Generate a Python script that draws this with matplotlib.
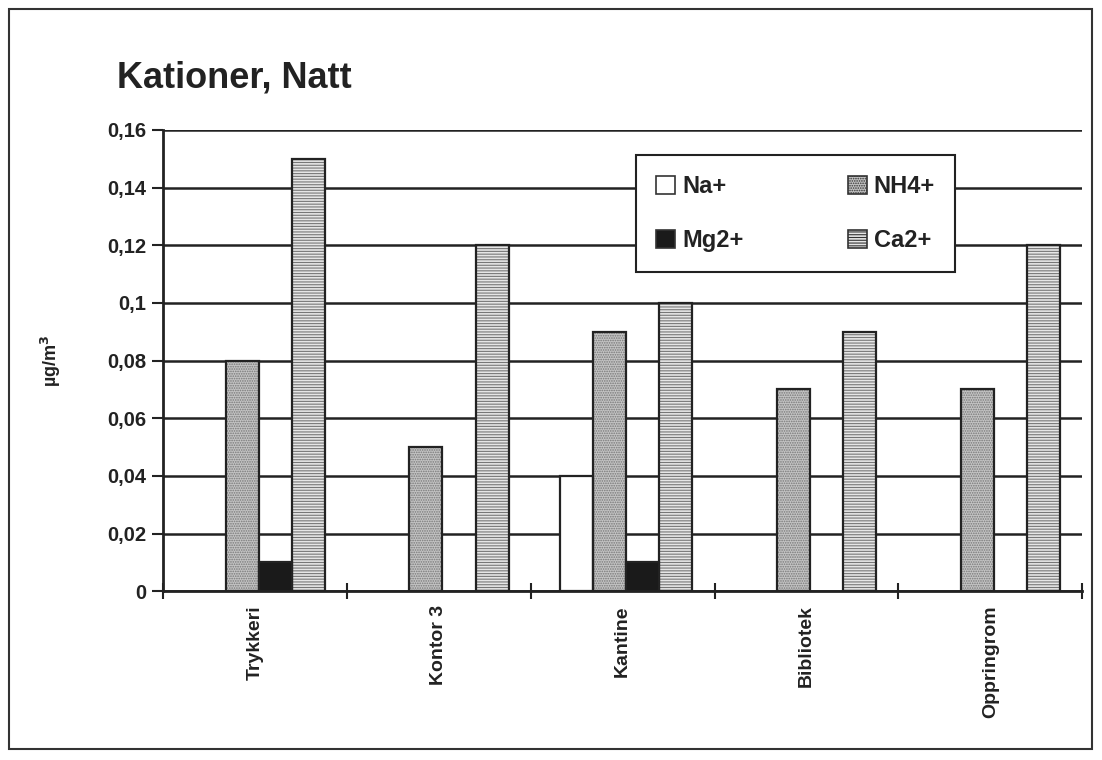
import numpy as np
import matplotlib
matplotlib.use("Agg")
import matplotlib.pyplot as plt
from matplotlib.patches import Rectangle, Patch
from matplotlib.ticker import FuncFormatter, FixedLocator

plt.rcParams['font.family'] = ['Liberation Sans', 'DejaVu Sans']
plt.rcParams['font.weight'] = 'bold'
plt.rcParams['hatch.linewidth'] = 0.8

# data
steder = ['Trykkeri', 'Kontor 3', 'Kantine', 'Bibliotek', 'Oppringrom']
na = [0.0, 0.0, 0.04, 0.0, 0.0]
nh4 = [0.08, 0.05, 0.09, 0.07, 0.07]
mg = [0.01, 0.0, 0.01, 0.0, 0.0]
ca = [0.15, 0.12, 0.10, 0.09, 0.12]
yticks = [0, 0.02, 0.04, 0.06, 0.08, 0.1, 0.12, 0.14, 0.16]

fig = plt.figure(figsize=(11.02, 7.6), dpi=100)
ax = fig.add_axes([0.148, 0.222, 0.834, 0.607])

# ramme rundt hele figuren
fig.patches.append(Rectangle((0.008, 0.015), 0.983, 0.973, transform=fig.transFigure,
                             fill=False, edgecolor='#333333', linewidth=1.5))

x = np.arange(len(steder))
w = 0.18
serier = [
    ('Na+', na, dict(facecolor='white', hatch=None)),
    ('NH4+', nh4, dict(facecolor='#c4c4c4', hatch='.......')),
    ('Mg2+', mg, dict(facecolor='#1a1a1a', hatch=None)),
    ('Ca2+', ca, dict(facecolor='#e6e6e6', hatch='------')),
]

handles = {}
for i, (navn, vals, stil) in enumerate(serier):
    pos = x + (i - 1.5) * w + 0.02
    vals = np.array(vals)
    synlig = vals > 0
    ax.bar(pos[synlig], vals[synlig], width=w, facecolor=stil['facecolor'],
           hatch=stil['hatch'], edgecolor='#777777', linewidth=0, zorder=3)
    ax.bar(pos[synlig], vals[synlig], width=w, fill=False,
           edgecolor='#222222', linewidth=1.6, zorder=4)
    handles[navn] = Patch(facecolor=stil['facecolor'], hatch=stil['hatch'],
                          edgecolor='#333333', linewidth=1.2)

ax.set_xlim(-0.5, len(steder) - 0.5)
ax.set_ylim(0, 0.16)
ax.yaxis.set_major_locator(FixedLocator(yticks))
ax.yaxis.set_major_formatter(FuncFormatter(lambda v, p: ('%g' % round(v, 2)).replace('.', ',')))
ax.grid(axis='y', color='#222222', linewidth=1.8, zorder=1)
ax.set_axisbelow(True)

ax.xaxis.set_major_locator(FixedLocator(np.arange(-0.5, len(steder), 1.0)))
ax.xaxis.set_major_formatter(FuncFormatter(lambda v, p: ''))
ax.xaxis.set_minor_locator(FixedLocator(x))
ax.set_xticklabels(steder, minor=True, rotation=90, fontsize=14, fontweight='bold',
                   color='#222222')
ax.tick_params(axis='x', which='minor', length=0, pad=10)
ax.tick_params(axis='x', which='major', direction='inout', length=12, width=1.5, color='#222222')
ax.tick_params(axis='y', direction='out', length=8, width=1.5, color='#222222',
               labelsize=14.5, pad=4, labelcolor='#222222')
for t in ax.get_yticklabels():
    t.set_fontweight('bold')

for s in ['top', 'right']:
    ax.spines[s].set_visible(False)
for s in ['left', 'bottom']:
    ax.spines[s].set_color('#222222')
    ax.spines[s].set_linewidth(2)

ax.set_ylabel('µg/m$^\\mathbf{3}$', fontsize=13, fontweight='bold', labelpad=32, color='#222222')

fig.text(0.106, 0.898, 'Kationer, Natt', fontsize=26, fontweight='bold', color='#222222',
         va='center', ha='left')

leg = ax.legend([handles['Na+'], handles['Mg2+'], handles['NH4+'], handles['Ca2+']],
                ['Na+', 'Mg2+', 'NH4+', 'Ca2+'], ncol=2, loc='upper left',
                bbox_to_anchor=(0.515, 0.945), fontsize=17, frameon=True, fancybox=False,
                framealpha=1, handlelength=0.8, handleheight=0.8, handletextpad=0.3,
                columnspacing=4.4, labelspacing=1.3, borderpad=0.85, borderaxespad=0)
leg.get_frame().set_edgecolor('#222222')
leg.get_frame().set_linewidth(1.5)
leg.set_zorder(10)
for t in leg.get_texts():
    t.set_fontweight('bold')
    t.set_color('#222222')

fig.savefig('out.png', dpi=100, facecolor='white')
